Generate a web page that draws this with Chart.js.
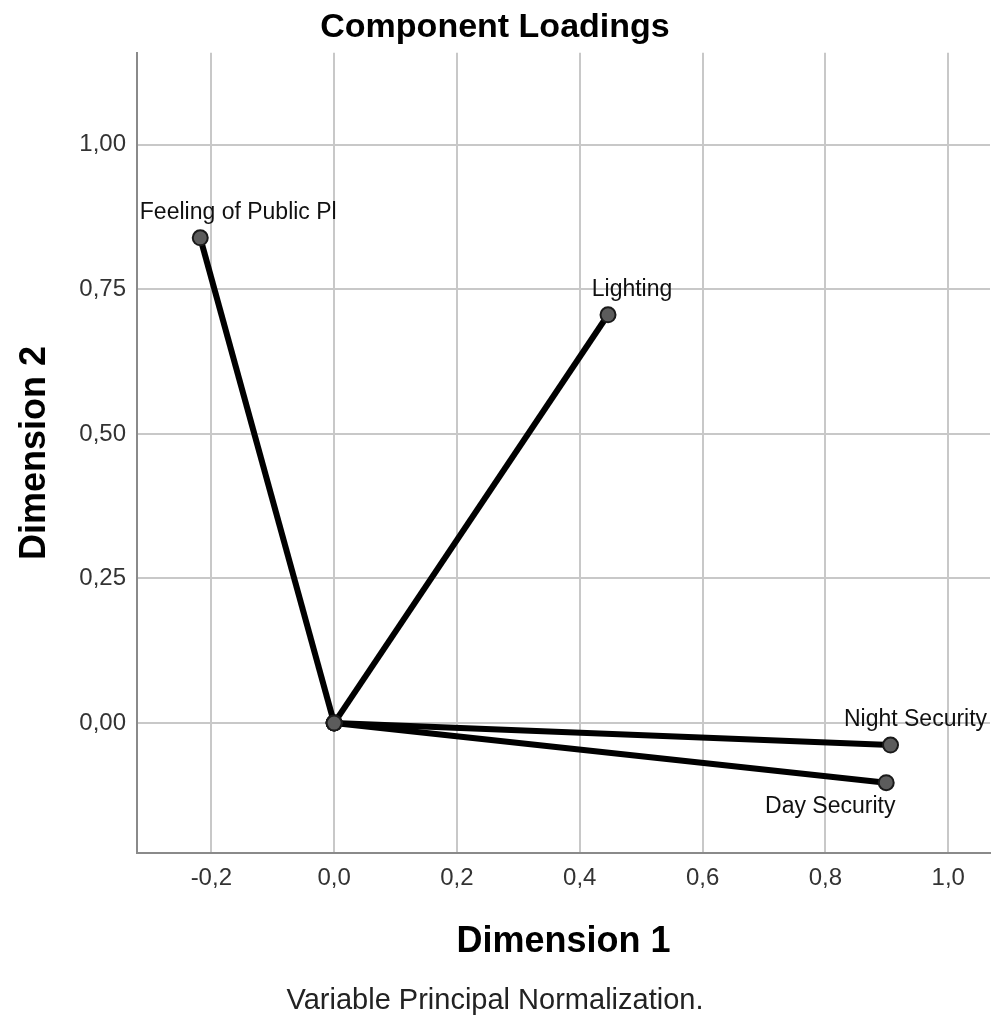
<!DOCTYPE html>
<html>
<head>
<meta charset="utf-8">
<title>Component Loadings</title>
<script src="https://cdn.jsdelivr.net/npm/chart.js@4/dist/chart.umd.min.js"></script>
<style>
    body { margin: 0; background: #fff; }
    canvas { display: block; }
</style>
</head>
<body>
<canvas id="chart" width="993" height="1025"></canvas>
<script>
// нагрузки компонент
const variables = ["Feeling of Public Pl", "Lighting", "Night Security", "Day Security"]
const dim1 = [-0.218, 0.446, 0.906, 0.899]
const dim2 = [0.839, 0.706, -0.038, -0.103]

const xTicks = [-0.2, 0.0, 0.2, 0.4, 0.6, 0.8, 1.0]
const yTicks = [0.0, 0.25, 0.5, 0.75, 1.0]

// смещения подписей относительно точек, px
const labelDx = [38, 24, 25, -56]
const labelDy = [-25, -25, -25, 24]

const FONT = "'Liberation Sans', Arial, sans-serif"

/**
 * формат числа с запятой
 * @param {Number} v - значение
 * @param {Number} digits - знаков после запятой
 */
const fmt = (v, digits) => v.toFixed(digits).replace(".", ",")

const keepTicks = (list) => (scale) => {
    scale.ticks = list.map(v => ({ value: v }))
}

const pointLabels = {
    id: "pointLabels",
    afterDatasetsDraw(chart) {
        const ctx = chart.ctx
        const xs = chart.scales.x
        const ys = chart.scales.y
        ctx.save()
        ctx.font = `23px ${FONT}`
        ctx.fillStyle = "#111"
        ctx.textAlign = "center"
        ctx.textBaseline = "middle"
        for (let i = 0; i < variables.length; i++) {
            const px = xs.getPixelForValue(dim1[i])
            const py = ys.getPixelForValue(dim2[i])
            ctx.fillText(variables[i], px + labelDx[i], py + labelDy[i])
        }
        ctx.restore()
    }
}

const datasets = variables.map((name, i) => ({
    label: name,
    data: [{ x: 0, y: 0 }, { x: dim1[i], y: dim2[i] }],
    showLine: true,
    borderColor: "#000",
    borderWidth: 6,
    pointRadius: 7.5,
    pointBackgroundColor: "#5c5c5c",
    pointBorderColor: "#1a1a1a",
    pointBorderWidth: 2
}))

new Chart(document.getElementById("chart"), {
    type: "scatter",
    data: { datasets },
    plugins: [pointLabels],
    options: {
        responsive: false,
        animation: false,
        layout: { autoPadding: false, padding: { left: 0, right: 3, top: 0, bottom: 0 } },
        plugins: {
            legend: { display: false },
            tooltip: { enabled: false },
            title: {
                display: true,
                text: "Component Loadings",
                color: "#000",
                font: { family: FONT, size: 34, weight: "bold" },
                padding: { top: 7, bottom: 5 }
            },
            subtitle: {
                display: true,
                position: "bottom",
                text: "Variable Principal Normalization.",
                color: "#222",
                font: { family: FONT, size: 29 },
                padding: { top: 8, bottom: 7 }
            }
        },
        scales: {
            x: {
                type: "linear",
                min: -0.321,
                max: 1.068,
                afterBuildTicks: keepTicks(xTicks),
                afterFit: (scale) => {
                    scale.height = 122
                    scale.paddingLeft = 0
                    scale.paddingRight = 0
                },
                grid: { color: "#c8c8c8", lineWidth: 2, drawTicks: false },
                border: { color: "#8a8a8a", width: 2 },
                ticks: {
                    color: "#333",
                    font: { family: FONT, size: 24 },
                    padding: 11,
                    callback: (v) => fmt(v, 1)
                },
                title: {
                    display: true,
                    text: "Dimension 1",
                    color: "#000",
                    font: { family: FONT, size: 36, weight: "bold" },
                    padding: { top: 0, bottom: 12 }
                }
            },
            y: {
                type: "linear",
                min: -0.225,
                max: 1.159,
                afterBuildTicks: keepTicks(yTicks),
                afterFit: (scale) => { scale.width = 137 },
                grid: { color: "#c8c8c8", lineWidth: 2, drawTicks: false },
                border: { color: "#8a8a8a", width: 2 },
                ticks: {
                    color: "#333",
                    font: { family: FONT, size: 24 },
                    padding: 11,
                    callback: (v) => fmt(v, 2)
                },
                title: {
                    display: true,
                    text: "Dimension 2",
                    color: "#000",
                    font: { family: FONT, size: 36, weight: "bold" },
                    padding: { top: 13, bottom: 0 }
                }
            }
        }
    }
})
</script>
</body>
</html>
